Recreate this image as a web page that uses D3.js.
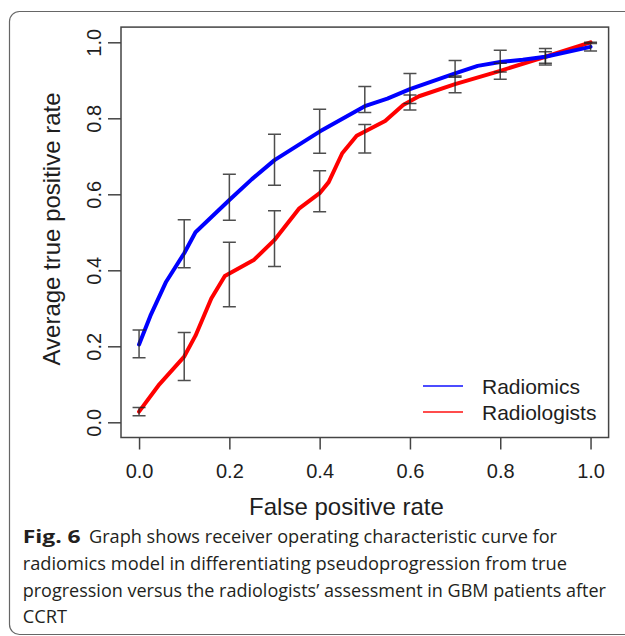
<!DOCTYPE html>
<html>
<head>
<meta charset="utf-8">
<script src="https://cdn.jsdelivr.net/npm/d3@7"></script>
<style>
  body { margin: 0; background: #fff; }
  svg { display: block; }
</style>
</head>
<body>
<div id="chart"></div>
<script>
// ROC points
var fprRadiomics = [0, 0.025, 0.06, 0.1, 0.125, 0.2, 0.25, 0.3, 0.4, 0.5, 0.55, 0.6, 0.7, 0.75, 0.8, 0.85, 0.9, 1.0];
var tprRadiomics = [0.205, 0.28, 0.37, 0.445, 0.5, 0.585, 0.64, 0.69, 0.765, 0.832, 0.852, 0.877, 0.918, 0.938, 0.948, 0.954, 0.962, 0.988];

var fprRadiologists = [0, 0.045, 0.1, 0.125, 0.16, 0.19, 0.255, 0.3, 0.355, 0.4, 0.42, 0.45, 0.482, 0.545, 0.585, 0.62, 0.7, 0.8, 0.9, 1.0];
var tprRadiologists = [0.028, 0.1, 0.173, 0.228, 0.326, 0.385, 0.428, 0.48, 0.563, 0.603, 0.632, 0.708, 0.754, 0.793, 0.835, 0.858, 0.89, 0.925, 0.962, 1.0];

// error bars
var errX = [0, 0.1, 0.2, 0.3, 0.4, 0.5, 0.6, 0.7, 0.8, 0.9, 1.0];
var radiomicsLo = [0.17, 0.407, 0.532, 0.624, 0.708, 0.815, 0.839, 0.908, 0.922, 0.94, 0.977];
var radiomicsHi = [0.243, 0.533, 0.653, 0.758, 0.824, 0.884, 0.918, 0.952, 0.979, 0.984, 0.997];
var radiologistsLo = [0.017, 0.11, 0.304, 0.41, 0.554, 0.709, 0.822, 0.867, 0.903, 0.945, 1.0];
var radiologistsHi = [0.039, 0.236, 0.474, 0.557, 0.662, 0.784, 0.861, 0.911, 0.945, 0.975, 1.0];

var xTicks = [0, 0.2, 0.4, 0.6, 0.8, 1.0];
var yTicks = [0, 0.2, 0.4, 0.6, 0.8, 1.0];
var seriesNames = ['Radiomics', 'Radiologists'];
var seriesColors = ['#0000ff', '#ff0000'];

var captionLines = [
  'Graph shows receiver operating characteristic curve for',
  'radiomics model in differentiating pseudoprogression from true',
  'progression versus the radiologists\u2019 assessment in GBM patients after',
  'CCRT'
];

var width = 625, height = 636;
var ink = '#1e1e1e', frame = '#444';
var rFont = "'Liberation Sans', Arial, sans-serif";

var svg = d3.select('#chart')
  .append('svg')
    .attr('width', width)
    .attr('height', height);

// outer figure frame (runs off the right edge)
svg.append('rect')
    .attr('x', 9.5)
    .attr('y', 11.5)
    .attr('width', 640)
    .attr('height', 623)
    .attr('rx', 10)
    .attr('fill', 'none')
    .attr('stroke', '#666')
    .attr('stroke-width', 1.2);

// R style: 4% padding on each side
var x = d3.scaleLinear().domain([-0.04, 1.04]).range([121, 608.6]);
var y = d3.scaleLinear().domain([-0.04, 1.04]).range([437.5, 27.1]);

var plot = svg.append('g');

plot.append('rect')
    .attr('x', x(-0.04))
    .attr('y', y(1.04))
    .attr('width', x(1.04) - x(-0.04))
    .attr('height', y(-0.04) - y(1.04))
    .attr('fill', 'none')
    .attr('stroke', frame)
    .attr('stroke-width', 1.5);

var xAxis = svg.append('g')
    .attr('transform', 'translate(0,' + y(-0.04) + ')')
    .call(d3.axisBottom(x).tickValues(xTicks).tickFormat(d3.format('.1f')).tickSize(12).tickPadding(12));

var yAxis = svg.append('g')
    .attr('transform', 'translate(' + x(-0.04) + ',0)')
    .call(d3.axisLeft(y).tickValues(yTicks).tickFormat(d3.format('.1f')).tickSize(13).tickPadding(6));

[xAxis, yAxis].forEach(function (ax) {
  ax.select('.domain').remove();
  ax.selectAll('line').attr('stroke', frame).attr('stroke-width', 1.5);
  ax.selectAll('text')
      .attr('fill', ink)
      .style('font-family', rFont)
      .style('font-size', '20px');
});

xAxis.selectAll('text').attr('dy', null).attr('y', 477.7 - y(-0.04));

// rotated y labels, baseline at x ~101
yAxis.selectAll('.tick text')
    .attr('x', null)
    .attr('dy', null)
    .attr('text-anchor', 'middle')
    .attr('transform', 'translate(' + (101 - x(-0.04)) + ',0) rotate(-90)');

svg.append('text')
    .attr('x', 346.5)
    .attr('y', 515)
    .attr('text-anchor', 'middle')
    .attr('fill', ink)
    .style('font-family', rFont)
    .style('font-size', '24px')
    .text('False positive rate');

svg.append('text')
    .attr('transform', 'translate(60,229) rotate(-90)')
    .attr('text-anchor', 'middle')
    .attr('fill', ink)
    .style('font-family', rFont)
    .style('font-size', '24px')
    .text('Average true positive rate');

// curves
var line = d3.line()
    .x(function (d) { return x(d[0]); })
    .y(function (d) { return y(d[1]); });

var curves = [
  d3.zip(fprRadiomics, tprRadiomics),
  d3.zip(fprRadiologists, tprRadiologists)
];

// red drawn first, blue over it
[1, 0].forEach(function (i) {
  plot.append('path')
      .datum(curves[i])
      .attr('d', line)
      .attr('fill', 'none')
      .attr('stroke', seriesColors[i])
      .attr('stroke-width', 4)
      .attr('stroke-linejoin', 'round')
      .attr('stroke-linecap', 'round');
});

// error bars on top
var bars = d3.zip(errX, radiomicsLo, radiomicsHi)
  .concat(d3.zip(errX, radiologistsLo, radiologistsHi));

var eb = plot.append('g')
    .attr('stroke', '#222')
    .attr('stroke-opacity', 0.8)
    .attr('stroke-width', 1.5)
    .attr('fill', 'none');

eb.selectAll('path')
  .data(bars)
  .join('path')
    .attr('d', function (d) {
      var cx = x(d[0]), lo = y(d[1]), hi = y(d[2]), w = 6.5;
      return 'M' + cx + ',' + hi + 'V' + lo +
             'M' + (cx - w) + ',' + hi + 'H' + (cx + w) +
             'M' + (cx - w) + ',' + lo + 'H' + (cx + w);
    });

// legend
var legend = svg.append('g');
var legendY = [386, 412];
seriesNames.forEach(function (name, i) {
  legend.append('line')
      .attr('x1', 423).attr('x2', 463)
      .attr('y1', legendY[i]).attr('y2', legendY[i])
      .attr('stroke', seriesColors[i])
      .attr('stroke-opacity', 0.7)
      .attr('stroke-width', 2);
  legend.append('text')
      .attr('x', 482)
      .attr('y', legendY[i] + 8)
      .attr('fill', ink)
      .style('font-family', rFont)
      .style('font-size', '21px')
      .text(name);
});

// caption
var cap = svg.append('g')
    .attr('fill', '#231f20')
    .style('font-family', "'Open Sans', sans-serif")
    .style('font-size', '18px');

cap.append('text')
    .attr('x', 22.7).attr('y', 543.3)
    .attr('textLength', 58).attr('lengthAdjust', 'spacingAndGlyphs')
    .style('font-weight', 'bold')
    .text('Fig. 6');

var lineStart = [89, 22.7, 22.7, 22.7];
var lineEnd = [557, 567, 606, 67];
var lineBase = [543.3, 570, 596.7, 623.3];
captionLines.forEach(function (t, i) {
  cap.append('text')
      .attr('x', lineStart[i]).attr('y', lineBase[i])
      .attr('textLength', lineEnd[i] - lineStart[i])
      .attr('lengthAdjust', 'spacingAndGlyphs')
      .text(t);
});
</script>
</body>
</html>
